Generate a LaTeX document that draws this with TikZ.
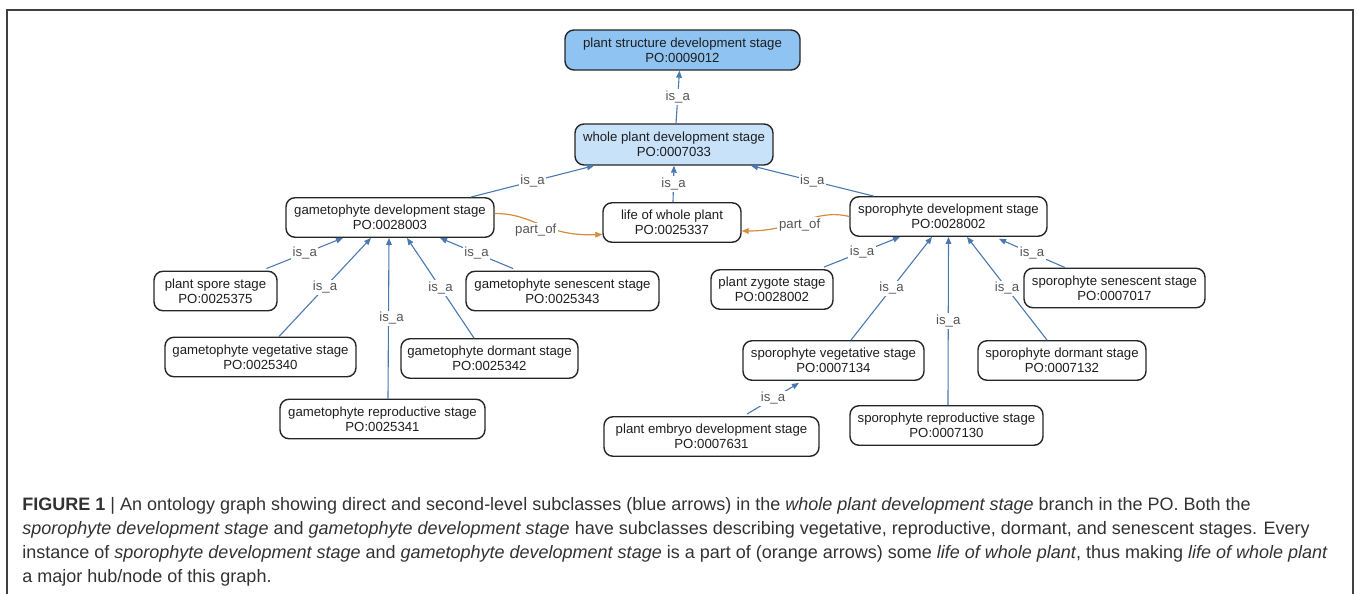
\documentclass[tikz,border=0pt]{standalone}
\usepackage{fontspec}
\setmainfont{Liberation Sans}
\usetikzlibrary{arrows.meta,calc}
\definecolor{isablue}{RGB}{74,120,176}
\definecolor{partorange}{RGB}{214,140,60}
\definecolor{topfill}{RGB}{142,195,242}
\definecolor{midfill}{RGB}{200,226,250}
\definecolor{lblgray}{RGB}{85,85,85}
\definecolor{txt}{RGB}{30,30,30}
\definecolor{capgray}{RGB}{50,50,50}
\begin{document}
\begin{tikzpicture}[x=0.5pt,y=-0.5pt,
  term/.style={draw=black!85, line width=0.7pt, rounded corners=4.5pt, align=center, inner sep=0pt, minimum height=19.75pt, text=txt, font=\fontsize{6.6}{7.5}\selectfont},
  isa/.style={draw=isablue, line width=0.55pt, -{Triangle[length=3.5pt,width=2.8pt]}},
  partof/.style={draw=partorange, line width=0.6pt, -{Triangle[length=3.5pt,width=2.8pt]}},
  elabel/.style={fill=white, inner sep=0.8pt, text=lblgray, font=\fontsize{6.6}{7.5}\selectfont},
  capline/.style={anchor=base west, inner sep=0pt, text=capgray, font=\fontsize{9}{12}\selectfont},
]
\useasboundingbox (0,0) rectangle (1357,594);
\draw[black!75, line width=0.7pt] (7,640) -- (7,10) -- (1353,10) -- (1353,640);

% nodes
\node[term, fill=topfill, minimum width=117.5pt, minimum height=20pt] (pstruct) at (682.5,50) {plant structure development stage\\PO:0009012};
\node[term, fill=midfill, minimum width=99pt, minimum height=20.5pt] (whole) at (674,144.5) {whole plant development stage\\PO:0007033};
\node[term, minimum width=104pt] (gam) at (390,217.5) {gametophyte development stage\\PO:0028003};
\node[term, minimum width=69pt] (life) at (672,222.5) {life of whole plant\\PO:0025337};
\node[term, minimum width=98.5pt] (spo) at (948.5,216.5) {sporophyte development stage\\PO:0028002};
\node[term, minimum width=61.5pt] (spore) at (215.5,291) {plant spore stage\\PO:0025375};
\node[term, minimum width=96.5pt] (gsen) at (562.5,291) {gametophyte senescent stage\\PO:0025343};
\node[term, minimum width=95.5pt] (gveg) at (260.5,357) {gametophyte vegetative stage\\PO:0025340};
\node[term, minimum width=88.5pt] (gdor) at (489.5,358.5) {gametophyte dormant stage\\PO:0025342};
\node[term, minimum width=102.5pt] (grep) at (382.5,419) {gametophyte reproductive stage\\PO:0025341};
\node[term, minimum width=61pt] (zyg) at (772,289.5) {plant zygote stage\\PO:0028002};
\node[term, minimum width=90.5pt] (ssen) at (1114.5,288) {sporophyte senescent stage\\PO:0007017};
\node[term, minimum width=90.5pt] (sveg) at (833.5,360.5) {sporophyte vegetative stage\\PO:0007134};
\node[term, minimum width=84pt] (sdor) at (1062,360.5) {sporophyte dormant stage\\PO:0007132};
\node[term, minimum width=96.5pt] (srep) at (946.5,425.5) {sporophyte reproductive stage\\PO:0007130};
\node[term, minimum width=107.5pt] (emb) at (711.5,436.5) {plant embryo development stage\\PO:0007631};

% is_a edges, upper part
\draw[isa] ($(whole.north)+(2,0)$) -- node[elabel]{is\_a} ($(pstruct.south)+(-3,0)$);
\draw[isa] ($(gam.north)+(81,0)$) -- node[elabel]{is\_a} ($(whole.south)+(-80,0)$);
\draw[isa] ($(life.north)+(1,0)$) -- node[elabel]{is\_a} (whole.south);
\draw[isa] ($(spo.north)+(-75,0)$) -- node[elabel]{is\_a} ($(whole.south)+(77,0)$);

% part_of edges
\draw[partof] ($(gam.east)+(0,-4)$) .. controls +(40,0) and +(-58,2) .. node[elabel, xshift=-3pt, yshift=-2.75pt]{part\_of} ($(life.west)+(0,12)$);
\draw[partof] (spo.west) .. controls +(-35,-8.5) and +(54,0) .. node[elabel, xshift=-1.5pt, yshift=-2.25pt]{part\_of} ($(life.east)+(0,8.5)$);

% gametophyte children
\draw[isa] ($(spore.north)+(51,-2)$) -- node[elabel]{is\_a} ($(gam.south)+(-47,0)$);
\draw[isa] ($(gveg.north)+(18.5,0)$) -- node[elabel]{is\_a} ($(gam.south)+(-19,0)$);
\draw[isa] ($(grep.north)+(5.5,0)$) -- node[elabel, xshift=1.5pt]{is\_a} ($(gam.south)+(-1,0)$);
\draw[isa] ($(gdor.north)+(-15.5,0)$) -- node[elabel]{is\_a} ($(gam.south)+(17,0)$);
\draw[isa] ($(gsen.north)+(-49.5,-2)$) -- node[elabel]{is\_a} ($(gam.south)+(50,0)$);

% sporophyte children
\draw[isa] ($(zyg.north)+(52,-2)$) -- node[elabel]{is\_a} ($(spo.south)+(-48.5,0)$);
\draw[isa] ($(sveg.north)+(17.5,0)$) -- node[elabel]{is\_a} ($(spo.south)+(-16.5,0)$);
\draw[isa] ($(srep.north)+(1.5,0)$) -- node[elabel]{is\_a} ($(spo.south)+(0,0)$);
\draw[isa] ($(sdor.north)+(-15,0)$) -- node[elabel]{is\_a} ($(spo.south)+(18.5,0)$);
\draw[isa] ($(ssen.north)+(-49.5,0)$) -- node[elabel]{is\_a} ($(spo.south)+(50.5,2)$);
\draw[isa] ($(emb.north)+(35.5,-2)$) -- node[elabel]{is\_a} ($(sveg.south)+(-34.5,2)$);

% caption
\node[capline] (cap1) at (22,510) {\textbf{FIGURE 1} | An ontology graph showing direct and second-level subclasses (blue arrows) in the \textit{whole plant development stage} branch in the PO. Both the};
\node[capline] (cap2) at (22,534) {\textit{sporophyte development stage} and \textit{gametophyte development stage} have subclasses describing vegetative, reproductive, dormant, and senescent stages. Every};
\node[capline] (cap3) at (22,558) {instance of \textit{sporophyte development stage} and \textit{gametophyte development stage} is a part of (orange arrows) some \textit{life of whole plant}, thus making \textit{life of whole plant}};
\node[capline] (cap4) at (22,582) {a major hub/node of this graph.};
\end{tikzpicture}
\end{document}
